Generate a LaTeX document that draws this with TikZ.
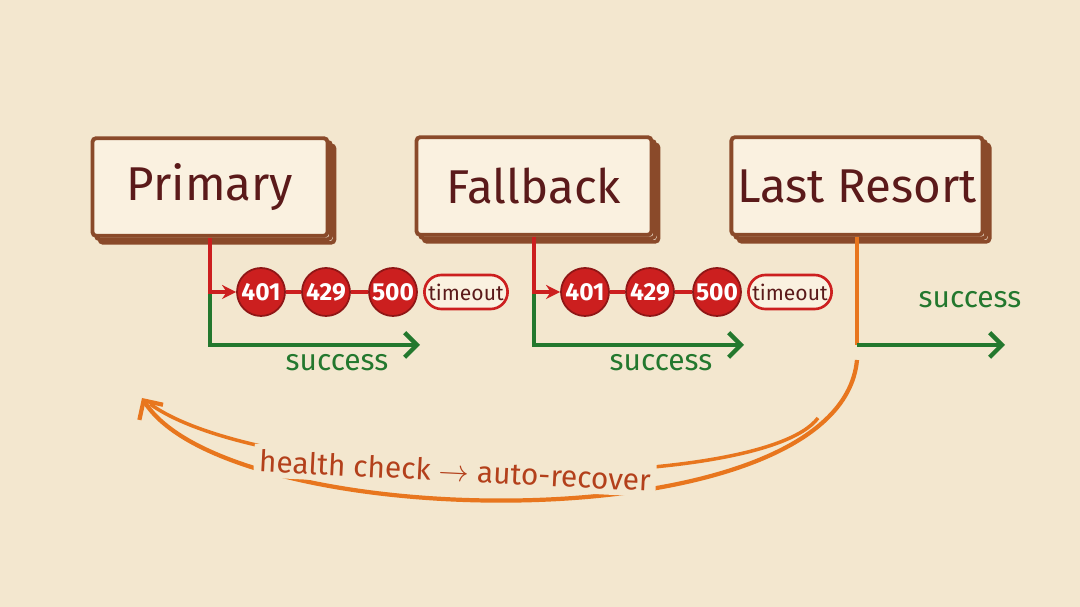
\documentclass[tikz,border=0pt]{standalone}
\usepackage{fontspec}
\setmainfont{Fira Sans}
\usetikzlibrary{arrows.meta,shadows,shapes.misc}

\definecolor{paper}{HTML}{F3E7CF}
\definecolor{cardfill}{HTML}{FAF1E0}
\definecolor{cardedge}{HTML}{8A4A2A}
\definecolor{cardtext}{HTML}{5B1A1A}
\definecolor{pin}{HTML}{F0B52C}
\definecolor{errred}{HTML}{CC1F1F}
\definecolor{okgreen}{HTML}{23782E}
\definecolor{recorange}{HTML}{E8761E}
\definecolor{rectext}{HTML}{B3401B}

\tikzset{
  provider/.style={draw=cardedge,line width=2.2pt,fill=cardfill,rounded corners=2pt,
    minimum width=4.7cm,minimum height=1.95cm,text=cardtext,font=\fontsize{27}{30}\selectfont,
    double copy shadow={shadow xshift=2pt,shadow yshift=-2pt},
    path picture={
      \fill[pin] ([shift={(6pt,-6pt)}]path picture bounding box.north west) circle (2.3pt);
      \fill[pin] ([shift={(-6pt,-6pt)}]path picture bounding box.north east) circle (2.3pt);
      \fill[pin] ([shift={(6pt,6pt)}]path picture bounding box.south west) circle (2.3pt);
      \fill[pin] ([shift={(-6pt,6pt)}]path picture bounding box.south east) circle (2.3pt);}},
  errdot/.style={circle,draw=errred!70!black,line width=1pt,fill=errred,text=white,
    minimum size=0.96cm,inner sep=0pt,font=\fontsize{14}{16}\selectfont\bfseries},
  errpill/.style={rounded rectangle,draw=errred,line width=1.5pt,fill=cardfill,text=cardtext,
    minimum width=1.6cm,minimum height=0.68cm,inner sep=1pt,font=\fontsize{12}{14}\selectfont},
  errline/.style={draw=errred,line width=2.4pt},
  okline/.style={draw=okgreen,line width=2.5pt,-{Straight Barb[length=7pt,width=14pt,line width=2.5pt]}},
  oklabel/.style={text=okgreen,font=\fontsize{17}{20}\selectfont},
  recline/.style={draw=recorange,line width=2.4pt},
  reclabel/.style={text=rectext,fill=paper,inner sep=3pt,font=\fontsize{17}{20}\selectfont}
}

\begin{document}
\begin{tikzpicture}[x=0.02cm,y=-0.02cm]
\fill[paper] (0,0) rectangle (1080,607);

% the three providers
\node[provider] (prim) at (210,187) {Primary};
\node[provider] (fall) at (534,186) {Fallback};
\node[provider] (last) at (857,186) {Last Resort};

% error chain + success path below the first two
\foreach \b/\x in {prim/210,fall/534}{
  \node[errdot] (\b-401) at (\x+51,292) {401};
  \node[errdot] (\b-429) at (\x+116,292) {429};
  \node[errdot] (\b-500) at (\x+183,292) {500};
  \node[errpill] (\b-to) at (\x+256,292) {timeout};
  \coordinate (\b-ok) at (\x+210,345);
  \draw[okline] (\b.south |- \b-401) |- (\b-ok);
  \draw[errline,-{Stealth[length=8pt,width=8pt]}] (\b.south) |- (\b-401);
  \draw[errline] (\b-401) -- (\b-429) -- (\b-500);
  \node[oklabel] at (\x+127,363) {success};
}

% last resort
\coordinate (last-join) at (857,345);
\coordinate (last-ok) at (1005,345);
\draw[recline] (last.south) -- (last-join);
\draw[okline] (last-join) -- (last-ok);
\node[oklabel] at (970,300) {success};

% recovery loop back to primary
\coordinate (rec-start) at (857,360);
\coordinate (rec-in) at (818,418);
\coordinate (rec-end) at (142,398);
\draw[recline,-{Straight Barb[length=8pt,width=16pt,line width=2.4pt]}]
  (rec-start) .. controls (840,545) and (230,535) .. (rec-end);
\draw[recline,line width=2pt] (rec-in) .. controls (760,495) and (270,490) .. (150,404)
  node[reclabel,pos=0.56,sloped] {health check $\rightarrow$ auto-recover};
\end{tikzpicture}
\end{document}
